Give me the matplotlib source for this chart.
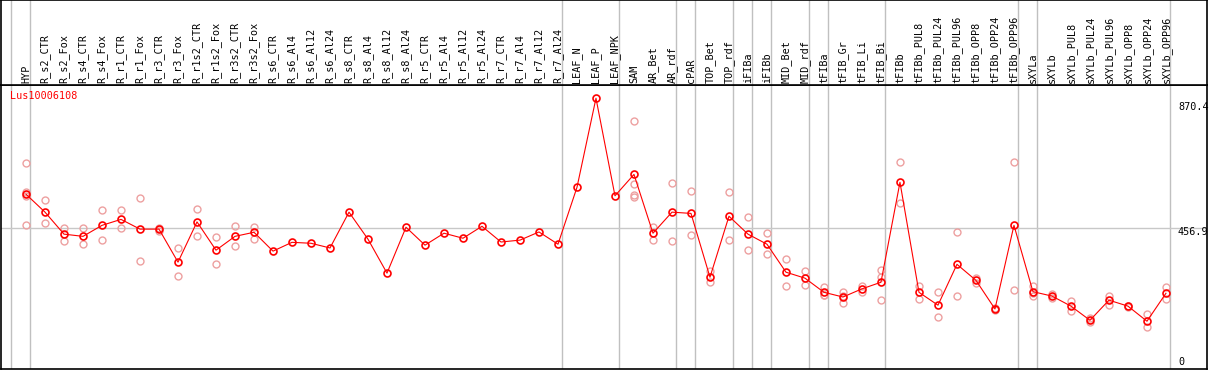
import matplotlib
matplotlib.use("Agg")
import matplotlib.pyplot as plt

# sample names, one column each
categories = [
    "HYP", "R_s2_CTR", "R_s2_Fox", "R_s4_CTR", "R_s4_Fox", "R_r1_CTR", "R_r1_Fox",
    "R_r3_CTR", "R_r3_Fox", "R_r1s2_CTR", "R_r1s2_Fox", "R_r3s2_CTR", "R_r3s2_Fox",
    "R_s6_CTR", "R_s6_Al4", "R_s6_Al12", "R_s6_Al24", "R_s8_CTR", "R_s8_Al4",
    "R_s8_Al12", "R_s8_Al24", "R_r5_CTR", "R_r5_Al4", "R_r5_Al12", "R_r5_Al24",
    "R_r7_CTR", "R_r7_Al4", "R_r7_Al12", "R_r7_Al24", "LEAF_N", "LEAF_P", "LEAF_NPK",
    "SAM", "AR_Bet", "AR_rdf", "cPAR", "TOP_Bet", "TOP_rdf", "iFIBa", "iFIBb",
    "MID_Bet", "MID_rdf", "tFIBa", "tFIB_Gr", "tFIB_Li", "tFIB_Bi", "tFIBb",
    "tFIBb_PUL8", "tFIBb_PUL24", "tFIBb_PUL96", "tFIBb_OPP8", "tFIBb_OPP24",
    "tFIBb_OPP96", "sXYLa", "sXYLb", "sXYLb_PUL8", "sXYLb_PUL24", "sXYLb_PUL96",
    "sXYLb_OPP8", "sXYLb_OPP24", "sXYLb_OPP96",
]

# how many samples sit in each tissue group (gray separators between them)
group_sizes = [1, 28, 3, 3, 1, 2, 1, 1, 2, 1, 3, 7, 1, 7]

gene = "Lus10006108"

means = [
    565, 508, 438, 431, 466, 485, 454, 454, 349, 477, 387, 431, 444,
    384, 412, 409, 394, 508, 422, 314, 460, 403, 441, 425, 463, 413, 419, 445, 406,
    587, 870.4, 560,
    628, 441, 508, 504, 301, 495, 438, 406, 317, 298,
    253, 238, 264, 285, 603, 253, 212, 342, 291, 200, 466,
    255, 241, 209, 164, 228, 209, 161, 250,
]

replicates = [
    [664, 573, 560, 466], [547, 473], [457, 417], [457, 406], [514, 419],
    [514, 456], [552, 353], [458, 449], [393, 304], [517, 431], [428, 342],
    [463, 401], [462, 424],
    [], [], [], [], [], [], [], [], [], [], [], [], [], [], [], [],
    [], [], [],
    [797, 597, 563, 555], [462, 419], [600, 415], [574, 435], [321, 285],
    [571, 419], [492, 387], [441, 374], [358, 272], [320, 275],
    [271, 246, 243], [255, 241, 218], [274, 253], [323, 303, 229], [669, 537],
    [273, 232], [253, 174], [444, 241], [298, 284], [202, 198], [669, 260],
    [273, 250, 242], [248, 236], [226, 194], [171, 157], [242, 214],
    [211, 206], [183, 142], [269, 231],
]

ref_values = [870.4, 456.9, 0]

W, H = 1209, 370
fig = plt.figure(figsize=(W / 100, H / 100), dpi=100)
fig.patch.set_facecolor("white")

mono = "DejaVu Sans Mono"
fs = 7.3

ax = fig.add_axes([1 / W, 1 / H, 1206 / W, 284 / H])
axh = fig.add_axes([1 / W, 285 / H, 1206 / W, 85 / H], sharex=ax)

x = list(range(len(categories)))
ax.set_xlim(-1.316, 62.16)
ax.set_ylim(9, 912.5)
axh.set_ylim(0, 1)

for a in (ax, axh):
    a.set_xticks([])
    a.set_yticks([])
    for s in a.spines.values():
        s.set_color("black")
        s.set_linewidth(1.2)

# group separators
edges = [-1]
for n in group_sizes:
    edges.append(edges[-1] + n)
for e in edges:
    for a in (ax, axh):
        a.axvline(e + 0.2, color="#c0c0c0", lw=1.0, zorder=0)

ax.axhline(ref_values[1], color="#c8c8c8", lw=1.0, zorder=0)

# replicate points
for i, reps in enumerate(replicates):
    if reps:
        ax.plot([i] * len(reps), reps, linestyle="none", marker="o", ms=5,
                mfc="none", mec="#eda0a0", mew=1.0, zorder=2)

ax.plot(x, means, color="red", lw=0.8, marker="o", ms=5, mfc="none",
        mec="red", mew=1.2, zorder=3)

# header labels
for i, name in enumerate(categories):
    axh.text(i, 0.025, name, rotation=90, ha="center", va="bottom",
             family=mono, fontsize=fs, color="black")

ax.text(9 / 1206, 1 - 6 / 284, gene, transform=ax.transAxes, ha="left",
        va="top", family=mono, fontsize=fs, color="red")

label_y = [(369 - 106.7) / 284, (369 - 231.7) / 284, (369 - 361.7) / 284]
for v, yy in zip(ref_values, label_y):
    txt = "0" if v == 0 else f"{v:.1f}"
    ax.text(1177 / 1206, yy, txt, transform=ax.transAxes, ha="left",
            va="center", family=mono, fontsize=fs, color="black")

fig.savefig("out.png", dpi=100)
